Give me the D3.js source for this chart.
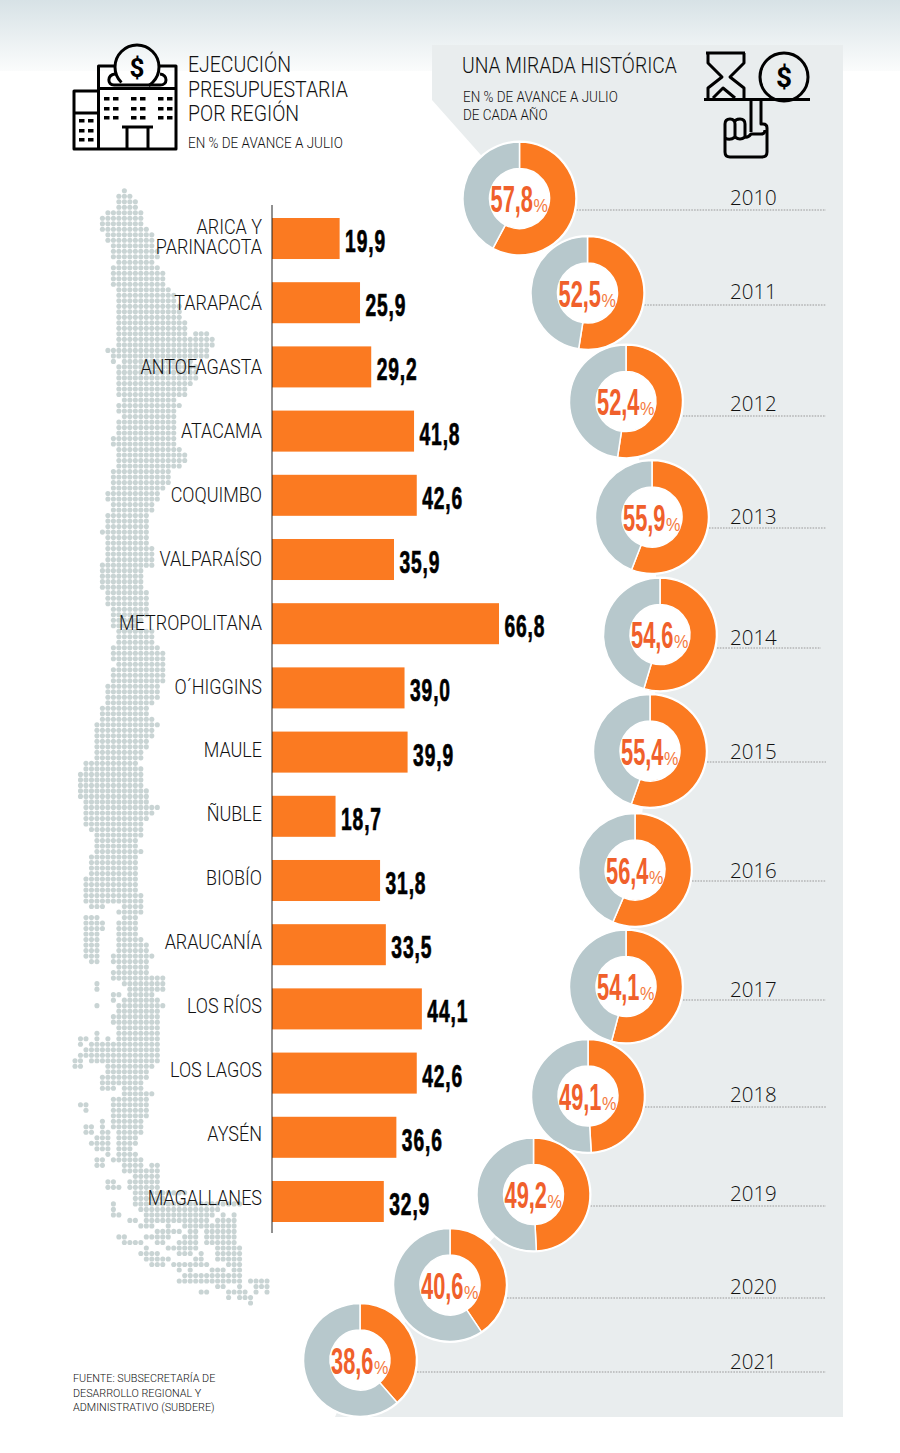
<!DOCTYPE html>
<html><head><meta charset="utf-8">
<script src="https://cdn.jsdelivr.net/npm/d3@7"></script>
<style>html,body{margin:0;padding:0;background:#fff}svg{display:block}</style>
</head><body><svg id="c" width="900" height="1453"></svg>
<script>
const regions=["ARICA Y|PARINACOTA","TARAPACÁ","ANTOFAGASTA","ATACAMA","COQUIMBO","VALPARAÍSO","METROPOLITANA","O´HIGGINS","MAULE","ÑUBLE","BIOBÍO","ARAUCANÍA","LOS RÍOS","LOS LAGOS","AYSÉN","MAGALLANES"];
const execution=[19.9,25.9,29.2,41.8,42.6,35.9,66.8,39.0,39.9,18.7,31.8,33.5,44.1,42.6,36.6,32.9];
const years=[2010,2011,2012,2013,2014,2015,2016,2017,2018,2019,2020,2021];
const history=[57.8,52.5,52.4,55.9,54.6,55.4,56.4,54.1,49.1,49.2,40.6,38.6];
const donutX=[519.5,587.5,626,652,660,650,635,626,588,533.5,450,360];
const donutY=[198.5,293,401.5,517,634.5,751,870,986.5,1096,1194.5,1285,1360];
const leaderY=[210,305,416,528,648,762,881,1000,1107,1206,1298,1372];
const leaderEnd=[826,826,826,826,821,826,826,826,826,826,826,826];
const yearY=[205,299,411,524,645,759,878,997,1102,1201,1294,1369];
// dotted map of Chile: one entry per dot row, [startCol,endCol, startCol,endCol...]
const mapRows=[[9,9],[8,10],[8,11],[8,11],[6,12],[5,12],[5,12],[5,13],[6,14],[6,14],[7,14],[7,15],[7,15],[8,14],[7,15],[7,16],[7,16],[7,16],[8,17],[8,18],[8,18],[8,19],[8,19],[8,19],[8,20],[8,20],[8,20,22,24],[8,25],[8,25],[6,24],[7,24],[7,7,9,21],[8,22],[8,22],[8,22],[8,21],[8,20],[8,20],[9,18],[8,19],[8,18],[9,18],[8,18],[8,18],[8,18],[7,18],[7,18],[8,19],[8,20],[8,20],[8,19],[7,17],[7,17],
[7,17],[7,16],[6,15],[6,15],[7,14],[7,14],[6,13],[6,13],[6,13],[5,13],[6,13],[6,13],[6,14],[6,14],[6,14],[5,14],[5,12],[5,12],[5,12],[5,12],[6,13],[6,13],[6,13],[7,13],[7,13],[7,12],[7,11],[8,14],[8,14],[8,14],[7,15],[7,16],[7,16],[8,16],[7,16],[7,16],[7,16],[6,15],[6,15],[6,15],[6,14],[5,13],[5,13],[5,14],[4,15],[4,14],[4,14],[4,13],[4,13],[4,12],[4,12],[2,11],[2,12],[1,12],
[1,12],[1,12],[1,13],[1,13],[2,13],[2,15],[2,14],[2,13],[2,12],[3,12],[4,12],[4,11],[4,11],[4,12],[3,11],[3,11],[3,11],[3,11],[2,11],[2,11],[2,11],[2,12],[2,12],[3,5,9,12],[8,12],[2,4,9,11],[2,5,8,11],[2,5,8,11],[2,4,8,11],[2,4,8,12],[2,4,8,13],[2,4,8,13],[2,4,7,14],[3,4,7,13],[8,13],[7,13],[7,16],[4,4,9,16],[4,4,10,16],[7,8,10,14],[7,7,9,15],[4,4,8,16],[8,15],[7,7,8,15],[7,15],[8,15],[4,4,8,15],[1,2,4,4,6,6,8,15],[1,1,3,7,8,15],[2,15],[1,15],[0,1,3,15],[0,1,6,14],[6,13],[5,13],
[5,12],[5,7,9,12],[9,14],[7,13],[1,2,7,13],[2,2,7,13],[7,13],[5,5,7,12],[2,3,5,5,7,12],[2,3,5,6,8,12],[4,6,8,11],[3,6,8,11],[4,6,8,10],[6,6,8,11],[4,5,7,12],[4,5,9,12,14,15],[9,15],[11,15],[6,7,10,15],[6,8,10,15],[11,20],[11,16],[7,7,11,30],[7,7,12,26],[7,8,13,25,27,27,29,29],[10,11,13,24,26,29],[12,14,17,17,20,23,24,29],[15,19,21,22,24,29],[8,9,13,17,20,22,24,29],[9,12,15,16,19,22,24,25,26,29],[13,13,17,22,26,30],[12,15,19,21,23,23,26,30],[13,17,22,23,26,30],[14,16,18,24,28,30],[19,19,21,21,25,27,29,30],[20,30],[19,30,32,35],[26,27,30,30,33,35],[23,24,28,31,33,33,35,35],[28,28,30,32],[32,32]];

const ORANGE="#fb7a21",GREY="#b7c8cc",PANEL="#e9edee",NUM="#f0602b",DOT="#c9d4d4",INK="#111";
const UI="Roboto, sans-serif",NARROW="'Liberation Sans Narrow', sans-serif";
const svg=d3.select("#c");
const defs=svg.append("defs");
const g=defs.append("linearGradient").attr("id","top").attr("x1",0).attr("x2",0).attr("y1",0).attr("y2",1);
g.append("stop").attr("offset",0).attr("stop-color","#d7e2e6");
g.append("stop").attr("offset",1).attr("stop-color","#fbfcfc");
svg.append("rect").attr("width",900).attr("height",71).attr("fill","url(#top)");

// grey panel runs behind the donut chain
const line=d3.line();
const panelEdge=donutX.map((x,i)=>[x,donutY[i]]);
svg.append("path").attr("fill",PANEL).attr("d",line([[432,45],[843,45],[843,1417],[335,1417],...panelEdge.slice().reverse(),[432,100]])+"Z");

// dotted map
const mx=d3.scaleLinear().domain([0,35]).range([75,267]);
const my=d3.scaleLinear().domain([0,202]).range([190.7,1303]);
const dots=[];
mapRows.forEach((spans,r)=>{for(let i=0;i<spans.length;i+=2)for(let c=spans[i];c<=spans[i+1];c++)dots.push([c,r]);});
svg.append("g").selectAll("circle").data(dots).join("circle").attr("cx",d=>mx(d[0])).attr("cy",d=>my(d[1])).attr("r",2.55).attr("fill",DOT);

// bars
const x=d3.scaleLinear().domain([0,66.8]).range([272,499]);
const y=d3.scaleBand().domain(regions).range([218,1222]).paddingInner(0.361).paddingOuter(0);
svg.append("g").selectAll("rect").data(regions).join("rect")
 .attr("x",x(0)).attr("y",d=>y(d)).attr("height",y.bandwidth())
 .attr("width",(d,i)=>x(execution[i])-x(0)).attr("fill",ORANGE);
svg.append("line").attr("x1",272).attr("x2",272).attr("y1",205).attr("y2",1233).attr("stroke","#222").attr("stroke-width",1);

const fmt=v=>d3.format(".1f")(v).replace(".",",");
// region names sit on a slightly tighter pitch than the bars
const labelY=d3.scalePoint().domain(regions).range([246.6,1204.5]);
const labels=svg.append("g").attr("font-family",UI).attr("font-weight",300).attr("font-size",20.5).attr("fill",INK).attr("text-anchor","end");
const regLabel=(s,py)=>labels.append("text").attr("transform",`translate(262,${py}) scale(.877,1)`).text(s);
regions.forEach(r=>{
 const parts=r.split("|");
 if(parts.length>1)parts.forEach((p,j)=>regLabel(p,labelY(r)-13+j*20));
 else regLabel(r,labelY(r));
});
svg.append("g").selectAll("text").data(regions).join("text")
 .attr("transform",(d,i)=>`translate(${x(execution[i])+5.5},${y(d)+y.bandwidth()/2+13.5}) scale(.62,1)`)
 .attr("font-family",NARROW).attr("font-weight",700).attr("font-size",31).attr("letter-spacing",1.4).attr("fill","#000").attr("stroke","#000").attr("stroke-width",.7)
 .text((d,i)=>fmt(execution[i]));

// leaders and years
const leaders=svg.append("g");
years.forEach((yr,i)=>{
 leaders.append("line").attr("x1",donutX[i]+57).attr("x2",leaderEnd[i]).attr("y1",leaderY[i]).attr("y2",leaderY[i])
  .attr("stroke","#999").attr("stroke-width",1).attr("stroke-dasharray","1.6 1.2");
 leaders.append("text").attr("x",730).attr("y",yearY[i]).attr("font-family","'Open Sans', sans-serif").attr("font-weight",300)
  .attr("font-size",20.5).attr("fill",INK).text(yr);
});

// donuts
const arc=d3.arc().innerRadius(30).outerRadius(56.5);
const pie=d3.pie().sort(null);
years.forEach((yr,i)=>{
 const d=svg.append("g").attr("transform",`translate(${donutX[i]},${donutY[i]})`);
 d.append("circle").attr("r",58).attr("fill","#fff");
 d.selectAll("path").data(pie([history[i],100-history[i]])).join("path")
  .attr("d",arc).attr("fill",(a,j)=>j?GREY:ORANGE).attr("stroke","#fff").attr("stroke-width",1.5);
 d.append("text").attr("transform","translate(13.5,13.5) scale(.59,1)").attr("text-anchor","end")
  .attr("font-family",NARROW).attr("font-weight",700).attr("font-size",37).attr("fill",NUM).text(fmt(history[i]));
 d.append("text").attr("transform","translate(14,13.5) scale(.85,1)")
  .attr("font-family",NARROW).attr("font-size",19).attr("fill","#f47a3e").text("%");
});

// headings
const txt=(s,px,py,sz,sx)=>svg.append("text").attr("transform",`translate(${px},${py}) scale(${sx||1},1)`).attr("font-family",UI).attr("font-weight",300).attr("font-size",sz).attr("fill",INK).text(s);
txt("EJECUCIÓN",188,72,22.5,.865);txt("PRESUPUESTARIA",188,97,22.5,.865);txt("POR REGIÓN",188,121,22.5,.865);
txt("EN % DE AVANCE A JULIO",188,148,14.5,.93);
txt("UNA MIRADA HISTÓRICA",462,73,22.5,.856);
txt("EN % DE AVANCE A JULIO",463,102,14.5,.93);txt("DE CADA AÑO",463,120,14.5,.93);
txt("FUENTE: SUBSECRETARÍA DE",73,1382,10.8);txt("DESARROLLO REGIONAL Y",73,1397,10.8);txt("ADMINISTRATIVO (SUBDERE)",73,1411,10.8);

// building icon
const ic=svg.append("g").attr("fill","none").attr("stroke","#000").attr("stroke-width",3).attr("stroke-linejoin","round");
ic.append("path").attr("d","M114 66H98.500V149H176V66H160 M98.500 91H74V149H98.500 M74 113H98.500 M98.500 88.500H176");
ic.append("path").attr("d","M115 74C107 75 107 85 114 85H160C168 85 168 75 160 74");
ic.append("circle").attr("cx",137).attr("cy",67).attr("r",22).attr("stroke-dasharray","108 30").attr("transform","rotate(135 137 67)");
ic.append("path").attr("d","M122 127H153 M127 127V148 M148 127V148");
const win=svg.append("g").attr("fill","#000");
[104,131,158].forEach(wx=>[97,107,116].forEach(wy=>[0,9].forEach(o=>win.append("rect").attr("x",wx+o).attr("y",wy).attr("width",5.5).attr("height",3.5))));
[79,88].forEach(wx=>[119,129,138].forEach(wy=>win.append("rect").attr("x",wx).attr("y",wy).attr("width",5.5).attr("height",3.5)));
svg.append("text").attr("x",137).attr("y",77).attr("text-anchor","middle").attr("font-family",UI).attr("font-weight",700).attr("font-size",26).attr("fill","#000").text("$");

// hourglass, coin and hand icon
const ih=svg.append("g").attr("fill","none").attr("stroke","#000").attr("stroke-width",3).attr("stroke-linejoin","round");
ih.append("path").attr("d","M704 99.500H810");
ih.append("path").attr("d","M706 53H745M708 53V63L722 77L708 88V98M744 53V63L730 77L744 88V98M713 98L723 88L735 98");
ih.append("circle").attr("cx",784).attr("cy",77).attr("r",24);
ih.append("path").attr("d","M751 100V132M761 100V124H763Q767 124 767 128V152Q767 157 762 157H730Q725 157 725 152V124");
ih.append("path").attr("d","M725 124Q725 119 730 119Q735 119 735 124V137M735 122Q735 119 740 119Q745 119 745 124V137M725 138Q730 141 735 137Q740 141 745 137Q748 138 751 134H761Q765 134 765 130");
svg.append("text").attr("x",784).attr("y",87).attr("text-anchor","middle").attr("font-family",UI).attr("font-weight",700).attr("font-size",28).attr("fill","#000").text("$");
</script></body></html>
